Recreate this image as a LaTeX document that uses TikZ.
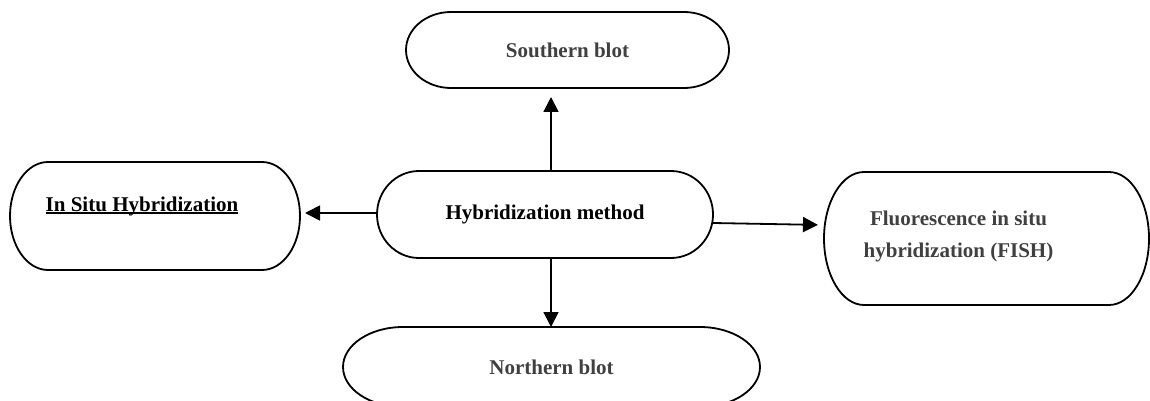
\documentclass[tikz,border=0pt]{standalone}
\usepackage{fontspec}
\setmainfont{Liberation Serif}
\usetikzlibrary{arrows.meta,calc}

% outline with elliptical ends, #2 = horizontal radius of the ends
\newcommand{\capsule}[2]{%
	\draw[line width=1.8pt] ([xshift=#2]#1.north west) -- ([xshift=-#2]#1.north east)
		.. controls ([xshift=-0.448*#2]#1.north east) and ($(#1.east)!0.552!(#1.north east)$) .. (#1.east)
		.. controls ($(#1.east)!0.552!(#1.south east)$) and ([xshift=-0.448*#2]#1.south east) .. ([xshift=-#2]#1.south east)
		-- ([xshift=#2]#1.south west)
		.. controls ([xshift=0.448*#2]#1.south west) and ($(#1.west)!0.552!(#1.south west)$) .. (#1.west)
		.. controls ($(#1.west)!0.552!(#1.north west)$) and ([xshift=0.448*#2]#1.north west) .. cycle;}
\newcommand{\wordul}[1]{\setbox0\hbox{#1}\rlap{\rule[-2.6pt]{\wd0}{1.8pt}}\box0}

\definecolor{labelgray}{HTML}{404040}

\begin{document}
\begin{tikzpicture}[x=1pt, y=-1pt,
		bnode/.style = {shape = rectangle,
		                inner sep = 0pt,
		                outer sep = 0pt,
		                font = \fontsize{21}{32}\selectfont\bfseries,
		                align = center},
		link/.style = {line width=1.8pt, -{Triangle[length=15pt,width=15pt]}}]
	\useasboundingbox (0,0) rectangle (1150,401);
	\node[bnode, minimum width=336pt, minimum height=87pt] (hyb) at (545,214.5) {Hybridization method};
	\node[bnode, minimum width=323pt, minimum height=76pt, text=labelgray] (south) at (567.5,50) {Southern blot};
	\node[bnode, minimum width=417pt, minimum height=80pt, text=labelgray] (north) at (551.5,367) {Northern blot};
	\node[bnode, minimum width=290pt, minimum height=108pt,
		label={[bnode, xshift=-13pt, yshift=10pt]center:\wordul{In Situ Hybridization}}] (insitu) at (155,216) {};
	\node[bnode, minimum width=325pt, minimum height=133pt,
		label={[bnode, text=labelgray, xshift=-28pt, yshift=2.5pt]center:Fluorescence in situ\\hybridization (FISH)}] (fish) at (986.5,238.5) {};
	\capsule{hyb}{42}
	\capsule{south}{45}
	\capsule{north}{60}
	\capsule{insitu}{38}
	\capsule{fish}{40}
	\draw[link] ([xshift=6pt]hyb.north) -- ([xshift=6pt]hyb.north |- south.south) [shorten >=9pt];
	\draw[link] ([xshift=6pt]hyb.south) -- ([xshift=6pt]hyb.south |- north.north);
	\draw[link, shorten >=5pt] ([yshift=1.5pt]hyb.west) -- ([yshift=1.5pt]hyb.west -| insitu.east);
	\draw[link, shorten >=6pt] ([yshift=-8.5pt]hyb.east) -- ([yshift=13.5pt]fish.west);
\end{tikzpicture}
\end{document}
